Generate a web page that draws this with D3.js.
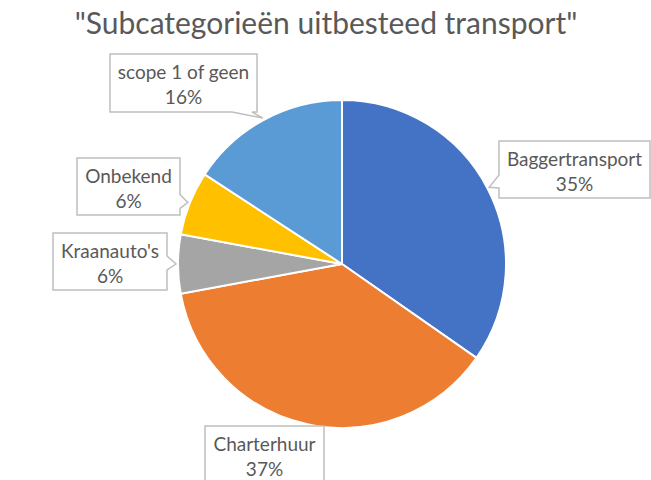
<!DOCTYPE html>
<html>
<head>
<meta charset="utf-8">
<script src="https://cdn.jsdelivr.net/npm/d3@7"></script>
<style>
  html, body { margin: 0; padding: 0; background: #fff; }
  text { font-family: Lato, "Open Sans", sans-serif; fill: #595959; }
</style>
</head>
<body>
<div id="chart"></div>
<script>
// chart data (clockwise from 12 o'clock)
const categories = ["Baggertransport", "Charterhuur", "Kraanauto's", "Onbekend", "scope 1 of geen"];
const shares = [34.7, 37.4, 5.8, 6.3, 15.8];
const sliceColors = ["#4472C4", "#ED7D31", "#A5A5A5", "#FFC000", "#5B9BD5"];
const chartTitle = "\"Subcategorieën uitbesteed transport\"";

// callout boxes, layout only: centre, size and the side the pointer leaves from
const callouts = [
  {cx: 574.5, cy: 169.5, w: 151, h: 57, side: "left"},
  {cx: 264.5, cy: 455,   w: 119, h: 58, side: "none"},
  {cx: 110,   cy: 261.5, w: 114, h: 57, side: "right"},
  {cx: 128.5, cy: 186.5, w: 103, h: 57, side: "right"},
  {cx: 183.5, cy: 83,    w: 147, h: 58, side: "bottom"}
];

const dims = {width: 651, height: 480, cx: 342, cy: 264, r: 164};

const svg = d3.select("#chart")
  .append("svg")
    .attr("width", dims.width)
    .attr("height", dims.height);

svg.append("text")
  .attr("x", 326)
  .attr("y", 34)
  .attr("text-anchor", "middle")
  .style("font-size", "30px")
  .text(chartTitle);

const rows = categories.map((c, i) => ({name: c, value: shares[i], color: sliceColors[i]}));
const total = d3.sum(shares);

const pie = d3.pie().sort(null).value(d => d.value);
const arcs = pie(rows);

const arc = d3.arc().innerRadius(0).outerRadius(dims.r);

const g = svg.append("g")
  .attr("transform", "translate(" + dims.cx + "," + dims.cy + ")");

g.selectAll("path")
  .data(arcs)
  .join("path")
    .attr("d", arc)
    .attr("fill", d => d.data.color)
    .attr("stroke", "#fff")
    .attr("stroke-width", 2)
    .attr("stroke-linejoin", "round");

// point just outside the rim at the middle of a slice
function rimPoint(d, extra) {
  const a = (d.startAngle + d.endAngle) / 2;
  const rr = dims.r + extra;
  return [dims.cx + rr * Math.sin(a), dims.cy - rr * Math.cos(a)];
}

// callout outline with a pointer notch toward the slice
function calloutPath(box, tip) {
  const x0 = box.cx - box.w / 2, x1 = box.cx + box.w / 2;
  const y0 = box.cy - box.h / 2, y1 = box.cy + box.h / 2;
  const p = d3.path();
  p.moveTo(x0, y0);
  p.lineTo(x1, y0);
  if (box.side === "right") {
    const a = Math.max(y0 + 5, Math.min(tip[1] - 8, y1 - 19));
    p.lineTo(x1, a); p.lineTo(tip[0], tip[1]); p.lineTo(x1, a + 14);
  }
  p.lineTo(x1, y1);
  if (box.side === "bottom") {
    const b = Math.min(x1 - 5, Math.max(tip[0] + 8, x0 + 25));
    p.lineTo(b, y1); p.lineTo(tip[0], tip[1]); p.lineTo(b - 20, y1);
  }
  p.lineTo(x0, y1);
  if (box.side === "left") {
    const b = Math.min(y1 - 10, Math.max(tip[1] + 6, y0 + 19));
    p.lineTo(x0, b); p.lineTo(tip[0], tip[1]); p.lineTo(x0, b - 13);
  }
  p.closePath();
  return p.toString();
}

const labels = svg.append("g").selectAll("g")
  .data(arcs)
  .join("g");

labels.append("path")
  .attr("d", (d, i) => calloutPath(callouts[i], rimPoint(d, 2)))
  .attr("fill", "#fff")
  .attr("stroke", "#BFBFBF")
  .attr("stroke-width", 1.5)
  .attr("stroke-linejoin", "miter");

labels.append("text")
  .attr("x", (d, i) => callouts[i].cx)
  .attr("y", (d, i) => callouts[i].cy - 4)
  .attr("text-anchor", "middle")
  .style("font-size", "19px")
  .text(d => d.data.name);

labels.append("text")
  .attr("x", (d, i) => callouts[i].cx)
  .attr("y", (d, i) => callouts[i].cy + 21)
  .attr("text-anchor", "middle")
  .style("font-size", "19px")
  .text(d => Math.round(d.data.value / total * 100) + "%");
</script>
</body>
</html>
